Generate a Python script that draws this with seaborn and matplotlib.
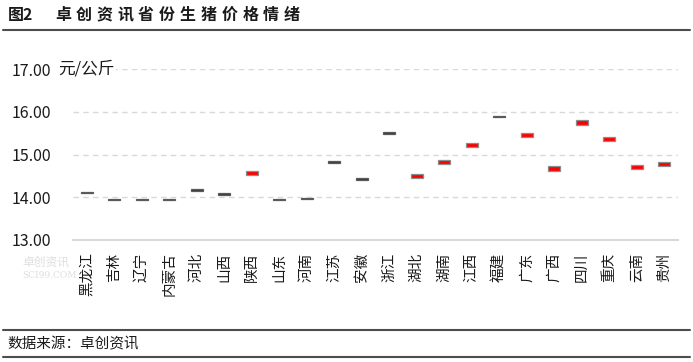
import matplotlib
matplotlib.use("Agg")
import matplotlib.pyplot as plt
from matplotlib.lines import Line2D
import pandas as pd
import seaborn as sns

# 数据：各省份生猪价格（前值 / 现值，元/公斤）
provinces = ['黑龙江', '吉林', '辽宁', '内蒙古', '河北', '山西', '陕西', '山东', '河南', '江苏', '安徽',
             '浙江', '湖北', '湖南', '江西', '福建', '广东', '广西', '四川', '重庆', '云南', '贵州']
prev_price = [14.13, 13.97, 13.97, 13.97, 14.19, 14.10, 14.52, 13.97, 13.99, 14.85, 14.45,
              15.52, 14.45, 14.78, 15.17, 15.91, 15.41, 14.62, 15.70, 15.32, 14.66, 14.72]
curr_price = [14.09, 13.93, 13.93, 13.93, 14.15, 14.06, 14.62, 13.93, 13.95, 14.81, 14.41,
              15.48, 14.55, 14.88, 15.27, 15.87, 15.51, 14.72, 15.80, 15.42, 14.76, 14.82]
y_ticks = [13, 14, 15, 16, 17]

df = pd.DataFrame({'省份': provinces, '前值': prev_price, '现值': curr_price})
df['变动'] = df['现值'] - df['前值']

sns.set_theme(style='white')
plt.rcParams['font.family'] = ['Noto Sans CJK SC', 'DejaVu Sans']

W, H = 693, 362
fig = plt.figure(figsize=(W / 100, H / 100), dpi=100)
ax = fig.add_axes([73 / W, 1 - 240 / H, (678 - 73) / W, (240 - 69) / H])

# 涨跌柱：高度为变动值，再把底部移到前值
sns.barplot(data=df, x='省份', y='变动', ax=ax, width=0.44, color='red',
            edgecolor='#8c8c8c', linewidth=0.9, errorbar=None, zorder=3)
for p, lo, d in zip(ax.patches, df['前值'], df['变动']):
    p.set_y(lo)
    if d > 0:
        p.set_facecolor('#ff0000')
    else:
        p.set_facecolor('#3a3a3a')
        p.set_edgecolor('#5a5a5a')

ax.set_ylim(13, 17)
ax.set_yticks(y_ticks)
ax.set_yticklabels([f'{v:.2f}' for v in y_ticks])
ax.set_xlabel('')
ax.set_ylabel('')
ax.set_axisbelow(True)
ax.yaxis.grid(True, linestyle=(0, (4, 3)), color='#d9d9d9', linewidth=1)
for s in ['left', 'top', 'right']:
    ax.spines[s].set_visible(False)
ax.spines['bottom'].set_color('#d9d9d9')
ax.spines['bottom'].set_linewidth(1.5)
ax.tick_params(axis='y', length=0, pad=16, labelsize=11.5, labelcolor='#1a1a1a')
ax.tick_params(axis='x', length=0, pad=9, labelsize=10.5, labelrotation=90, labelcolor='#1a1a1a')

# 单位
fig.text(58 / W, 1 - 69 / H, '元/公斤', fontsize=12, color='#1a1a1a', va='center', ha='left',
         bbox=dict(facecolor='white', edgecolor='none', pad=1))

# 标题（字间距较宽）
fig.text(8 / W, 1 - 15 / H, '图2', fontsize=11.5, fontweight='bold', va='center', ha='left', color='#1a1a1a')
for i, ch in enumerate('卓创资讯省份生猪价格情绪'):
    fig.text((55 + i * 20.8) / W, 1 - 15 / H, ch, fontsize=11.5, fontweight='bold',
             va='center', ha='left', color='#1a1a1a')

# 水印
fig.text(22 / W, 1 - 262 / H, '卓创资讯', fontsize=8.5, color='#dedede', va='center', ha='left', zorder=0)
fig.text(22 / W, 1 - 276 / H, 'SCI99.COM', fontsize=6.5, color='#dedede', va='center', ha='left',
         family='DejaVu Serif', zorder=0)

# 分隔线与来源
for yy in [30, 330, 357]:
    fig.add_artist(Line2D([3 / W, 690 / W], [1 - yy / H, 1 - yy / H], color='#4d4d4d', linewidth=1.5))
fig.text(7 / W, 1 - 344 / H, '数据来源：卓创资讯', fontsize=10.5, color='#1a1a1a', va='center', ha='left')

fig.savefig('out.png', dpi=100)
